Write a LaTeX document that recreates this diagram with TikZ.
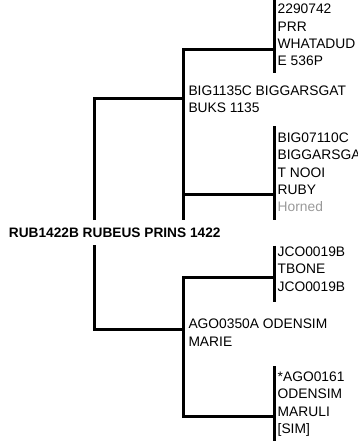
\documentclass[tikz,border=0pt]{standalone}
\usepackage{fontspec}
\setmainfont{Liberation Sans}
\usepackage{xcolor}
\usepackage{tikz}
\definecolor{notegray}{HTML}{999999}

\begin{document}
\begin{tikzpicture}[
    x=1pt, y=-1pt,
    animal/.style={anchor=north west, inner sep=0pt, align=left, font=\fontsize{13.8}{17.2}\selectfont},
    subject/.style={anchor=base west, inner sep=0pt, font=\fontsize{13.7}{17.2}\selectfont\bfseries},
    link/.style={line width=3pt, line join=miter}
]
\useasboundingbox (0,0) rectangle (358,441);

% animals
\node[subject] (subj) at (8.7,237.3) {RUB1422B RUBEUS PRINS 1422};
\node[animal] (sire) at (188.3,85.4) {BIG1135C BIGGARSGAT\\BUKS 1135};
\node[animal] (dam) at (188.3,319.1) {AGO0350A ODENSIM\\MARIE};
\node[animal] (siresire) at (277.5,4.1) {2290742\\PRR\\WHATADUD\\E 536P};
\node[animal] (siredam) at (277.5,132.8) {BIG07110C\\BIGGARSGA\\T NOOI\\RUBY\\\textcolor{notegray}{Horned}};
\node[animal] (damsire) at (277.5,246.8) {JCO0019B\\TBONE\\JCO0019B};
\node[animal] (damdam) at (277.5,371.8) {*AGO0161\\ODENSIM\\MARULI\\{}[SIM]};

% bracket ends
\coordinate (subj-up) at (94.7,220);
\coordinate (subj-down) at (94.7,245);
\coordinate (sire-in) at (183.5,99);
\coordinate (dam-in) at (183.5,329);
\coordinate (sire-end) at (183.5,220);
\coordinate (dam-top) at (183.5,277.5);
\coordinate (siresire-in) at (274.2,50);
\coordinate (siredam-in) at (274.2,194);
\coordinate (damsire-in) at (274.2,277.5);
\coordinate (damdam-in) at (274.2,416.5);

% subject to parents
\draw[link] (subj-up) |- (sire-in);
\draw[link] (subj-down) |- (dam-in);

% sire to grandparents
\draw[link] (siresire-in) -| (sire-end);
\draw[link] (siredam-in) -- (siredam-in -| sire-end);

% dam to grandparents
\draw[link] (damsire-in) -- (dam-top) |- (damdam-in);

% grandparent bars
\draw[link] (274.2,0) -- (274.2,73);
\draw[link] (274.2,126) -- (274.2,220);
\draw[link] (274.2,245.5) -- (274.2,302);
\draw[link] (274.2,366) -- (274.2,441);

\end{tikzpicture}
\end{document}
